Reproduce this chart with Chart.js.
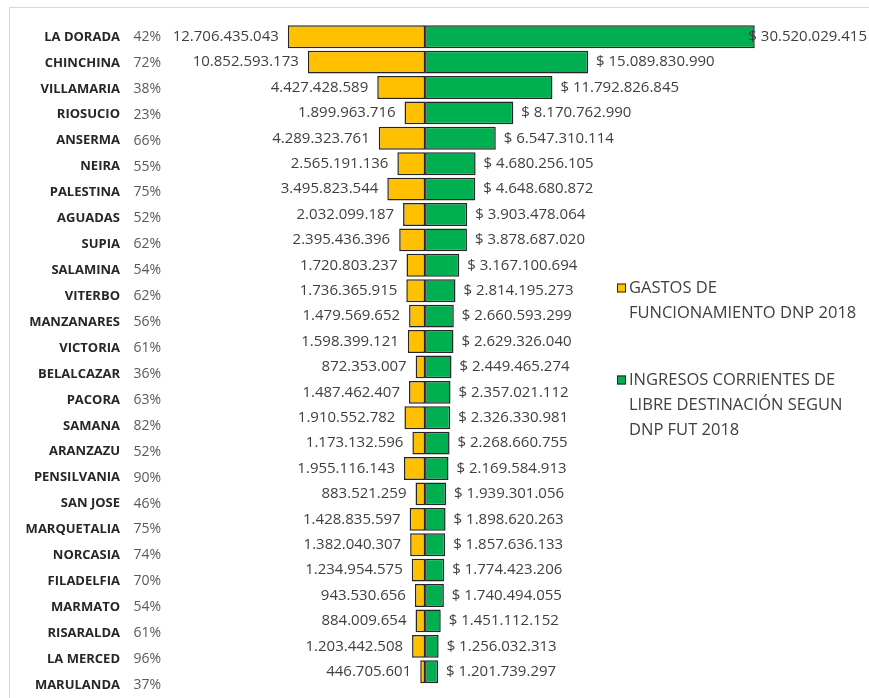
<!DOCTYPE html>
<html>
<head>
<meta charset="utf-8">
<script src="https://cdn.jsdelivr.net/npm/chart.js@4.4.1/dist/chart.umd.min.js"></script>
<style>
	body{margin:0;background:#fff}
	#wrap{position:relative;width:869px;height:698px;overflow:hidden}
	#frame{position:absolute;left:9px;top:7px;width:900px;height:720px;border:1px solid #d9d9d9;pointer-events:none}
</style>
</head>
<body>
<div id="wrap"><div id="frame"></div><canvas id="chart"></canvas></div>
<script>
"use strict"
const municipios=['LA DORADA','CHINCHINA','VILLAMARIA','RIOSUCIO','ANSERMA','NEIRA','PALESTINA','AGUADAS','SUPIA','SALAMINA','VITERBO','MANZANARES','VICTORIA','BELALCAZAR','PACORA','SAMANA','ARANZAZU','PENSILVANIA','SAN JOSE','MARQUETALIA','NORCASIA','FILADELFIA','MARMATO','RISARALDA','LA MERCED','MARULANDA']
const porcentajes=['42%','72%','38%','23%','66%','55%','75%','52%','62%','54%','62%','56%','61%','36%','63%','82%','52%','90%','46%','75%','74%','70%','54%','61%','96%','37%']
const gastos=[12706435043,10852593173,4427428589,1899963716,4289323761,2565191136,3495823544,2032099187,2395436396,1720803237,1736365915,1479569652,1598399121,872353007,1487462407,1910552782,1173132596,1955116143,883521259,1428835597,1382040307,1234954575,943530656,884009654,1203442508,446705601]
const ingresos=[30520029415,15089830990,11792826845,8170762990,6547310114,4680256105,4648680872,3903478064,3878687020,3167100694,2814195273,2660593299,2629326040,2449465274,2357021112,2326330981,2268660755,2169584913,1939301056,1898620263,1857636133,1774423206,1740494055,1451112152,1256032313,1201739297]
const series=['GASTOS DE FUNCIONAMIENTO DNP 2018','INGRESOS CORRIENTES DE LIBRE DESTINACIÓN SEGUN DNP FUT 2018']

const FONT='"Open Sans", "Noto Sans", sans-serif'
let fmt=v=>String(v).replace(/\B(?=(\d{3})+(?!\d))/g,'.')

let wrapText=(c,text,maxW)=>{
	let lines=[], line=''
	text.split(' ').forEach(w=>{
		let t=line ? line+' '+w : w
		if(line && c.measureText(t).width>maxW){ lines.push(line); line=w }
		else line=t
	})
	lines.push(line)
	return lines
}

// numbers next to each bar
let valueLabels={
	id:'valueLabels',
	afterDatasetsDraw(chart){
		let c=chart.ctx
		c.save()
		c.font='15px '+FONT
		c.fillStyle='#404040'
		c.textBaseline='middle'
		chart.getDatasetMeta(0).data.forEach((bar,i)=>{
			c.textAlign='right'
			c.fillText(fmt(gastos[i]),Math.min(bar.x,bar.base)-9,bar.y)
		})
		chart.getDatasetMeta(1).data.forEach((bar,i)=>{
			let txt='$ '+fmt(ingresos[i])
			let w=c.measureText(txt).width
			c.textAlign='left'
			c.fillText(txt,Math.min(Math.max(bar.x,bar.base)+8,chart.width-w-2),bar.y)
		})
		c.restore()
	}
}

// legend on the right, wrapped like the original
let sideLegend={
	id:'sideLegend',
	afterDraw(chart){
		let c=chart.ctx
		c.save()
		c.font='16.5px '+FONT
		c.textBaseline='middle'
		let y=288
		chart.data.datasets.forEach(ds=>{
			c.fillStyle=ds.backgroundColor
			c.fillRect(617,y-4.5,9,9)
			c.strokeStyle='#262626'
			c.lineWidth=1
			c.strokeRect(617.5,y-4,8,8)
			c.fillStyle='#404040'
			c.textAlign='left'
			wrapText(c,ds.label,236).forEach((line,k)=>c.fillText(line,629,y+k*25))
			y+=92
		})
		c.restore()
	}
}

// side axes only carry text, no extra vertical padding
let fixAxis=w=>s=>{
	s.width=w
	s.paddingTop=0
	s.paddingBottom=0
}

new Chart(document.getElementById('chart'),{
	type:'bar',
	data:{
		datasets:[{
			label:series[0],
			data:gastos.map((v,i)=>({x:-v,y:i})),
			backgroundColor:'#FFC000',
			borderColor:'#262626',
			borderWidth:1.5,
			borderSkipped:false
		},{
			label:series[1],
			data:ingresos.map((v,i)=>({x:v,y:i})),
			backgroundColor:'#00B050',
			borderColor:'#262626',
			borderWidth:1.5,
			borderSkipped:false
		}]
	},
	options:{
		indexAxis:'y',
		responsive:true,
		maintainAspectRatio:false,
		animation:false,
		layout:{padding:{top:24,right:0,bottom:0,left:0}},
		datasets:{bar:{categoryPercentage:1,barPercentage:0.9}},
		plugins:{legend:{display:false},tooltip:{enabled:false}},
		scales:{
			x:{type:'linear',display:false,stacked:true,min:-23.8e9,max:41.1e9},
			y:{type:'linear',display:false,stacked:true,reverse:true,offset:false,min:-0.5,max:26.035},
			names:{
				type:'category',axis:'y',position:'left',weight:2,offset:true,
				labels:municipios,
				grid:{display:false,drawTicks:false},border:{display:false},
				ticks:{autoSkip:false,padding:7,color:'#262626',font:{family:FONT,size:13,weight:'bold'}},
				afterFit:fixAxis(127)
			},
			pcts:{
				type:'category',axis:'y',position:'left',weight:1,offset:true,
				labels:porcentajes,
				grid:{display:false,drawTicks:false},border:{display:false},
				ticks:{autoSkip:false,padding:7,color:'#595959',font:{family:FONT,size:14}},
				afterFit:fixAxis(41)
			}
		}
	},
	plugins:[valueLabels,sideLegend]
})
</script>
</body>
</html>
